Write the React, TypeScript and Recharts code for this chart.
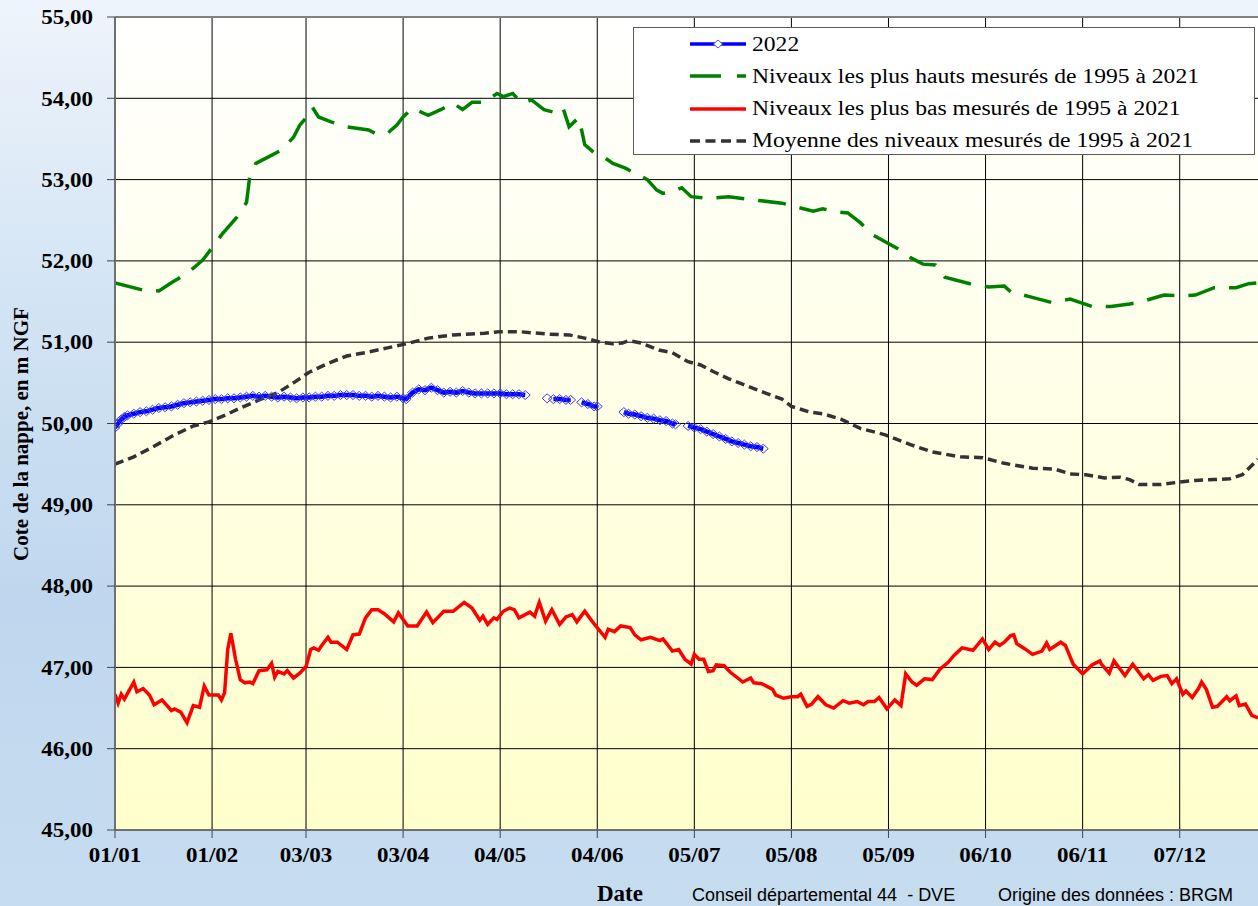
import React from 'react';
import { LineChart, Line, XAxis, YAxis, CartesianGrid, ReferenceLine } from 'recharts';

// x axis = day of year (0 = 1st January)
const tickDays = [0, 31, 61, 92, 123, 154, 185, 216, 247, 278, 309, 340];
const tickLabels = ['01/01', '01/02', '03/03', '03/04', '04/05', '04/06', '05/07', '05/08', '05/09', '06/10', '06/11', '07/12'];
const levelTicks = [45, 46, 47, 48, 49, 50, 51, 52, 53, 54, 55];

const year2022: [number, number | null][] = [
  [0, 49.95], [1, 50.0], [2, 50.05], [3, 50.08], [4, 50.1], [6, 50.12], [8, 50.14], [10, 50.15], [12, 50.17],
  [14, 50.19], [16, 50.2], [18, 50.21], [20, 50.23], [22, 50.25], [24, 50.26], [26, 50.27], [28, 50.28],
  [30, 50.29], [32, 50.3], [34, 50.3], [36, 50.31], [38, 50.31], [40, 50.32], [42, 50.33], [44, 50.34],
  [46, 50.33], [48, 50.34], [50, 50.33], [52, 50.32], [54, 50.33], [56, 50.32], [58, 50.31], [60, 50.32],
  [62, 50.32], [64, 50.33], [66, 50.33], [68, 50.34], [70, 50.34], [72, 50.35], [74, 50.35], [76, 50.35],
  [78, 50.34], [80, 50.34], [82, 50.33], [84, 50.34], [86, 50.33], [88, 50.32], [90, 50.33], [92, 50.31],
  [93, 50.3], [95, 50.38], [97, 50.42], [99, 50.41], [101, 50.44], [103, 50.41], [105, 50.38], [107, 50.39],
  [109, 50.38], [111, 50.4], [113, 50.38], [115, 50.37], [117, 50.37], [119, 50.37], [121, 50.37],
  [123, 50.37], [125, 50.36], [127, 50.36], [129, 50.36], [131, 50.35], [134, null], [138, 50.31],
  [139, null], [140, 50.3], [142, 50.3], [144, 50.29], [145.5, 50.29], [147, null], [149, 50.26],
  [151, 50.24], [153, 50.21], [154, 50.21], [156, null], [162.5, 50.14], [164, 50.12], [166, 50.11],
  [168, 50.09], [170, 50.07], [172, 50.06], [174, 50.04], [176, 50.03], [178, 50.0], [179, 49.99],
  [181, null], [183, 49.97], [185, 49.95], [187, 49.93], [189, 49.9], [191, 49.87], [193, 49.84],
  [195, 49.81], [197, 49.78], [199, 49.76], [201, 49.74], [203, 49.72], [205, 49.71], [207, 49.69],
];

const highest: [number, number][] = [
  [0, 51.73], [9, 51.64], [14, 51.63], [18, 51.73], [21, 51.8], [25, 51.91], [28, 52.01], [31, 52.16],
  [34, 52.32], [39, 52.54], [42, 52.72], [43, 53.03], [45, 53.2], [49, 53.28], [53, 53.36], [57, 53.52],
  [59, 53.67], [61, 53.76], [63, 53.89], [65, 53.77], [69, 53.71], [74, 53.65], [81, 53.61], [83, 53.57],
  [87, 53.57], [90, 53.67], [92, 53.77], [95, 53.88], [100, 53.79], [104, 53.86], [108, 53.94],
  [111, 53.86], [114, 53.95], [118, 53.95], [122, 54.06], [124, 54.02], [127, 54.06], [130, 53.94],
  [133, 53.98], [137, 53.86], [140, 53.83], [143, 53.89], [145, 53.65], [148, 53.76], [149, 53.61],
  [150, 53.43], [153, 53.33], [156, 53.28], [159, 53.2], [163, 53.14], [166, 53.08], [170, 53.0],
  [173, 52.87], [175, 52.83], [178, 52.85], [181, 52.9], [184, 52.79], [190, 52.77], [196, 52.79],
  [204, 52.75], [213, 52.71], [218, 52.66], [223, 52.61], [226, 52.64], [231, 52.6], [234, 52.59],
  [238, 52.47], [242, 52.32], [250, 52.15], [254, 52.04], [258, 51.96], [262, 51.95], [265, 51.8],
  [273, 51.72], [279, 51.68], [284, 51.69], [286, 51.62], [292, 51.56], [299, 51.49], [305, 51.53],
  [312, 51.44], [318, 51.44], [324, 51.47], [327, 51.49], [335, 51.58], [340, 51.57], [345, 51.58],
  [351, 51.67], [358, 51.67], [362, 51.72], [365, 51.73],
];

const lowest: [number, number][] = [
  [0, 46.67], [1, 46.56], [2, 46.67], [3, 46.61], [6, 46.82], [7, 46.7], [9, 46.74], [11, 46.66],
  [12.5, 46.54], [15, 46.6], [18, 46.47], [19, 46.49], [21, 46.45], [23, 46.32], [25, 46.53], [27, 46.51],
  [28.5, 46.77], [30, 46.66], [33, 46.66], [34, 46.6], [35, 46.69], [36, 47.22], [37, 47.42], [38.5, 47.1],
  [40, 46.85], [41.5, 46.81], [43, 46.82], [44, 46.8], [46, 46.96], [48.5, 46.97], [50, 47.05], [51, 46.88],
  [52, 46.95], [54, 46.92], [55, 46.96], [57, 46.87], [59, 46.93], [61, 47.01], [62.5, 47.22], [63.5, 47.24],
  [65, 47.21], [66, 47.27], [68, 47.37], [69, 47.31], [71, 47.31], [74, 47.22], [76, 47.4], [78, 47.41],
  [80, 47.61], [82, 47.71], [84, 47.71], [86, 47.66], [89, 47.56], [90.5, 47.67], [93.5, 47.51],
  [96.5, 47.51], [99.5, 47.68], [101.5, 47.55], [105, 47.69], [108, 47.69], [111.5, 47.8], [114, 47.73],
  [116.5, 47.58], [117.5, 47.63], [119, 47.53], [121, 47.61], [122, 47.59], [124, 47.69], [126, 47.73],
  [127.5, 47.71], [129, 47.61], [132.5, 47.68], [134, 47.63], [135.5, 47.8], [137.5, 47.57], [139.5, 47.71],
  [142, 47.53], [144, 47.62], [146, 47.65], [147.5, 47.56], [150, 47.69], [152.5, 47.56], [156.5, 47.37],
  [157.5, 47.47], [159.5, 47.44], [161.5, 47.51], [164.5, 47.49], [166, 47.4], [168, 47.34], [171, 47.37],
  [174, 47.33], [175, 47.35], [178, 47.2], [180, 47.22], [182, 47.1], [184, 47.04], [185, 47.16],
  [186.5, 47.1], [188, 47.1], [189.5, 46.95], [191, 46.96], [192, 47.03], [194.5, 47.02], [196.5, 46.94],
  [200.5, 46.82], [203, 46.87], [204, 46.81], [206.5, 46.8], [210, 46.73], [211, 46.66], [213.5, 46.62],
  [216, 46.64], [218, 46.64], [219, 46.67], [221, 46.52], [222.5, 46.55], [224.5, 46.64], [227, 46.54],
  [229.5, 46.5], [232.5, 46.59], [234.5, 46.56], [237, 46.58], [239, 46.54], [240.5, 46.58], [242.5, 46.58],
  [244, 46.63], [246.5, 46.49], [249, 46.6], [251, 46.53], [252.5, 46.92], [254.5, 46.82], [256, 46.78],
  [258.5, 46.86], [261, 46.85], [263.5, 46.98], [266, 47.06], [268, 47.15], [270.5, 47.24], [274, 47.21],
  [277, 47.35], [279, 47.22], [281, 47.31], [282.5, 47.27], [284, 47.31], [286, 47.39], [287, 47.4],
  [288, 47.29], [290.5, 47.23], [293, 47.16], [296, 47.2], [297.5, 47.3], [298.5, 47.22], [302, 47.31],
  [303.5, 47.27], [306, 47.04], [309, 46.92], [312, 47.03], [314.5, 47.08], [315, 47.04], [317.5, 46.93],
  [319, 47.08], [322.5, 46.9], [325, 47.04], [328.5, 46.86], [330, 46.91], [331.5, 46.84], [334, 46.89],
  [336, 46.9], [337.5, 46.8], [339, 46.86], [341, 46.67], [342, 46.71], [344, 46.63], [346, 46.74],
  [347, 46.82], [348.5, 46.73], [350.5, 46.51], [352, 46.52], [355, 46.64], [356, 46.59], [358, 46.65],
  [359, 46.53], [361, 46.55], [363, 46.41], [365, 46.38],
];

const average: [number, number][] = [
  [0, 49.5], [6, 49.59], [12, 49.71], [19, 49.86], [25, 49.97], [30, 50.02], [35, 50.1], [40, 50.19],
  [46, 50.29], [52, 50.38], [57, 50.5], [62, 50.63], [68, 50.74], [74, 50.83], [81, 50.88], [87, 50.93],
  [93, 50.98], [100, 51.05], [108, 51.09], [118, 51.11], [123, 51.13], [129, 51.13], [138, 51.1],
  [145, 51.09], [150, 51.05], [155, 51.0], [159, 50.98], [162, 50.99], [164, 51.02], [168, 50.99],
  [174, 50.9], [178, 50.87], [183, 50.76], [187, 50.72], [191, 50.64], [196, 50.55], [200, 50.49],
  [204, 50.43], [208, 50.37], [213, 50.3], [216, 50.21], [222, 50.14], [226, 50.12], [232, 50.05],
  [238, 49.94], [246, 49.86], [254, 49.74], [261, 49.65], [270, 49.59], [277, 49.58], [284, 49.51],
  [293, 49.45], [300, 49.44], [305, 49.38], [310, 49.37], [316, 49.33], [321, 49.34], [324, 49.31],
  [327, 49.25], [334, 49.25], [340, 49.28], [345, 49.3], [351, 49.31], [356, 49.32], [360, 49.37],
  [365, 49.56],
];

const seriesNames = [
  '2022',
  'Niveaux les plus hauts mesurés de 1995 à 2021',
  'Niveaux les plus bas mesurés de 1995 à 2021',
  'Moyenne des niveaux mesurés de 1995 à 2021',
];

const serif = "'Liberation Serif', 'Times New Roman', serif";
const sans = "'Liberation Sans', Arial, sans-serif";

const toRows = (pts: [number, number | null][]) => pts.map(([day, level]) => ({ day, level }));

const fmtLevel = (v: number) => v.toFixed(2).replace('.', ',');
const fmtDay = (d: number) => tickLabels[tickDays.indexOf(d)] ?? '';

const LevelTick = ({ x, y, payload }: any) => (
  <g transform={`translate(${x},${y})`}>
    <text x={0} y={0} dy="0.36em" textAnchor="end" transform="scale(1.15,1)"
      fontFamily={serif} fontWeight="bold" fontSize={20} fill="#000">
      {fmtLevel(payload.value)}
    </text>
  </g>
);

const DayTick = ({ x, y, payload }: any) => (
  <g transform={`translate(${x},${y})`}>
    <text x={0} y={0} dy="0.71em" textAnchor="middle" transform="scale(1.15,1)"
      fontFamily={serif} fontWeight="bold" fontSize={20} fill="#000">
      {fmtDay(payload.value)}
    </text>
  </g>
);

const Diamond = (props: any) => {
  const { cx, cy, index } = props;
  if (cx == null || cy == null || props.value == null) return <g key={`d${index}`} />;
  return (
    <path key={`d${index}`} d={`M${cx - 5},${cy} L${cx},${cy - 4.5} L${cx + 5},${cy} L${cx},${cy + 4.5} Z`}
      fill="none" stroke="#3c3cff" strokeWidth={1} />
  );
};

const LegendSample = ({ i }: { i: number }) => {
  if (i === 0)
    return (
      <svg width={118} height={26}>
        <line x1={56} y1={13} x2={112} y2={13} stroke="#0000ff" strokeWidth={3.5} />
        <path d="M79.5,13 L84,9 L88.5,13 L84,17 Z" fill="#fff" stroke="#4f4fff" strokeWidth={1} />
      </svg>
    );
  const stroke = i === 1 ? '#008000' : i === 2 ? '#ff0000' : '#333333';
  const dash = i === 1 ? '31 16' : i === 3 ? '10 5.5' : undefined;
  return (
    <svg width={118} height={26}>
      <line x1={56} y1={13} x2={112} y2={13} stroke={stroke} strokeWidth={3.5} strokeDasharray={dash} />
    </svg>
  );
};

export default function App() {
  return (
    <div
      style={{
        position: 'fixed', left: 0, top: 0, width: 1258, height: 906, overflow: 'hidden',
        background: 'linear-gradient(to bottom, #eef4fb 0%, #d3e4f4 33%, #bfd7ee 66%, #c6dcef 100%)',
      }}
    >
      <LineChart width={1258} height={906} margin={{ top: 17, right: 0, bottom: 0, left: 0 }}>
        <defs>
          <linearGradient id="plotBg" x1="0" y1="0" x2="0" y2="1">
            <stop offset="0%" stopColor="#ffffff" />
            <stop offset="100%" stopColor="#ffffcc" />
          </linearGradient>
        </defs>
        <CartesianGrid stroke="#000" strokeWidth={1} fill="url(#plotBg)" fillOpacity={1}
          horizontalValues={levelTicks} verticalValues={tickDays} />
        <XAxis dataKey="day" type="number" domain={[0, 365]} ticks={tickDays} interval={0}
          height={76} tickSize={8} tickMargin={10} tick={<DayTick />}
          axisLine={{ stroke: '#707070', strokeWidth: 2 }} tickLine={{ stroke: '#444' }} allowDataOverflow />
        <YAxis type="number" domain={[45, 55]} ticks={levelTicks} interval={0} width={115}
          tickSize={8} tickMargin={14} tick={<LevelTick />}
          axisLine={{ stroke: '#707070', strokeWidth: 2 }} tickLine={{ stroke: '#444' }} allowDataOverflow />
        <ReferenceLine y={55} stroke="#808080" strokeWidth={2} />
        <Line data={toRows(year2022)} dataKey="level" name={seriesNames[0]} type="linear" stroke="#0000ff"
          strokeWidth={4.5} dot={Diamond} activeDot={false} connectNulls={false} isAnimationActive={false} />
        <Line data={toRows(highest)} dataKey="level" name={seriesNames[1]} type="linear" stroke="#008000"
          strokeWidth={3.5} strokeDasharray="28 14" dot={false} activeDot={false} isAnimationActive={false} />
        <Line data={toRows(lowest)} dataKey="level" name={seriesNames[2]} type="linear" stroke="#ff0000"
          strokeWidth={3.5} dot={false} activeDot={false} isAnimationActive={false} />
        <Line data={toRows(average)} dataKey="level" name={seriesNames[3]} type="linear" stroke="#333333"
          strokeWidth={3.5} strokeDasharray="9 5" dot={false} activeDot={false} isAnimationActive={false} />
      </LineChart>

      {/* legend box */}
      <div style={{ position: 'absolute', left: 633, top: 27, width: 620, height: 126, background: '#fff', border: '1px solid #5a5a5a' }}>
        {seriesNames.map((name, i) => (
          <div key={name} style={{ position: 'absolute', left: 0, top: 3 + i * 32.3, height: 26, display: 'flex', alignItems: 'center' }}>
            <LegendSample i={i} />
            <span style={{ fontFamily: serif, fontSize: 20, color: '#000', whiteSpace: 'nowrap', display: 'inline-block', transform: 'scaleX(1.18)', transformOrigin: 'left center' }}>
              {name}
            </span>
          </div>
        ))}
      </div>

      {/* axis titles and credits */}
      <div style={{ position: 'absolute', left: 21, top: 434, transform: 'translate(-50%, -50%) rotate(-90deg)', whiteSpace: 'nowrap', fontFamily: serif, fontWeight: 'bold', fontSize: 21, color: '#000' }}>
        Cote de la nappe, en m NGF
      </div>
      <div style={{ position: 'absolute', left: 597, top: 880, fontFamily: serif, fontWeight: 'bold', fontSize: 23, lineHeight: '28px', color: '#000' }}>
        Date
      </div>
      <div style={{ position: 'absolute', left: 692, top: 885, fontFamily: sans, fontSize: 18, lineHeight: '20px', color: '#000', whiteSpace: 'pre' }}>
        {'Conseil départemental 44  - DVE'}
      </div>
      <div style={{ position: 'absolute', left: 998, top: 885, fontFamily: sans, fontSize: 18, lineHeight: '20px', color: '#000', whiteSpace: 'pre' }}>
        {'Origine des données : BRGM'}
      </div>
    </div>
  );
}
